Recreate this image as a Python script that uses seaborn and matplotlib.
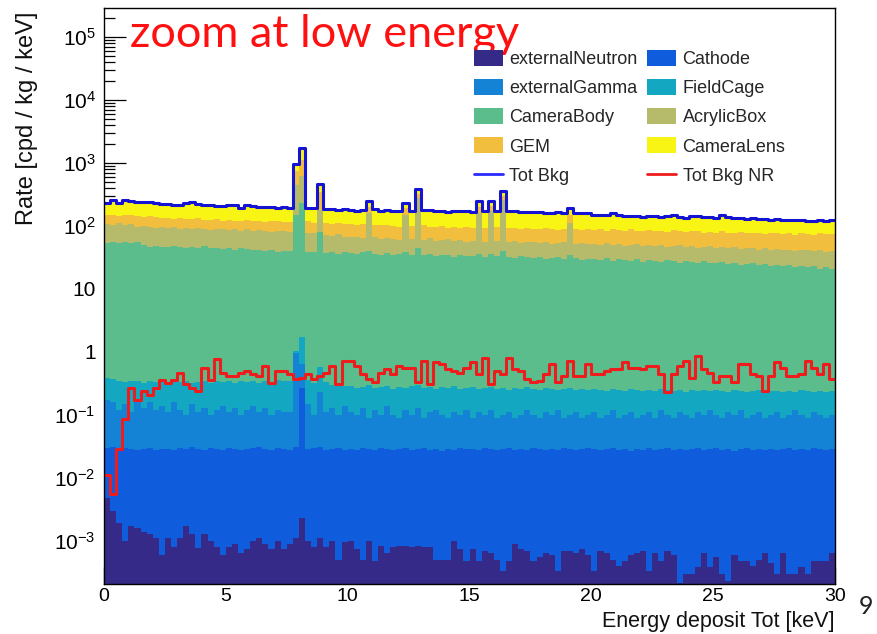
import numpy as np
import pandas as pd
import matplotlib
matplotlib.use("Agg")
import matplotlib.pyplot as plt
import seaborn as sns
from matplotlib.patches import Patch
from matplotlib.lines import Line2D
from matplotlib.ticker import FixedLocator, LogLocator, MultipleLocator, NullFormatter

# ---------------- data (stacked levels, 0.25 keV bins) -------------
bin_width = 0.25
energy_edges = np.arange(0, 30 + bin_width / 2, bin_width)
energy_centers = energy_edges[:-1] + bin_width / 2

# Tot Bkg (= top of the CameraLens layer)
tot_bkg = [
    234, 255, 234, 262, 245, 240, 238, 240, 234, 222,
    222, 214, 216, 228, 238, 226, 214, 212, 205, 206,
    218, 216, 196, 212, 206, 204, 201, 198, 194, 198,
    192, 960, 1740, 196, 194, 465, 186, 184, 180, 186,
    180, 176, 182, 250, 184, 176, 178, 174, 172, 232,
    176, 387, 182, 178, 172, 170, 168, 172, 170, 172,
    168, 250, 170, 250, 176, 360, 176, 174, 168, 166,
    166, 164, 162, 162, 164, 162, 196, 160, 158, 162,
    152, 150, 148, 158, 148, 146, 146, 144, 140, 142,
    146, 140, 146, 148, 138, 136, 144, 146, 140, 138,
    134, 148, 138, 134, 132, 130, 132, 128, 128, 126,
    128, 126, 124, 124, 124, 122, 122, 124, 122, 124,
]
# top of the GEM layer
lvl_gem = [
    150, 152, 146, 150, 148, 144, 140, 146, 138, 134,
    132, 130, 136, 130, 128, 132, 126, 124, 128, 122,
    126, 120, 122, 124, 118, 120, 116, 122, 118, 114,
    116, 760, 1100, 118, 112, 350, 112, 108, 110, 106,
    108, 104, 106, 200, 104, 102, 104, 100, 98, 190,
    100, 320, 102, 98, 96, 100, 94, 96, 92, 96,
    94, 200, 92, 210, 96, 300, 94, 92, 90, 92,
    90, 88, 92, 90, 86, 88, 150, 88, 86, 90,
    86, 88, 84, 90, 86, 84, 88, 82, 84, 86,
    82, 84, 80, 86, 82, 80, 84, 82, 78, 80,
    78, 82, 78, 76, 80, 78, 76, 78, 74, 76,
    78, 74, 76, 72, 76, 74, 72, 76, 74, 75,
]
# top of the AcrylicBox layer
lvl_acrylic = [
    108, 104, 110, 102, 106, 98, 100, 96, 94, 98,
    92, 96, 90, 94, 88, 92, 90, 86, 90, 88,
    86, 90, 84, 88, 82, 86, 84, 80, 84, 82,
    80, 450, 620, 78, 76, 180, 72, 70, 74, 68,
    66, 68, 64, 160, 66, 62, 64, 62, 60, 150,
    62, 280, 60, 64, 58, 60, 62, 58, 60, 56,
    58, 160, 56, 170, 58, 260, 56, 58, 54, 56,
    56, 54, 56, 52, 54, 56, 110, 52, 54, 52,
    52, 50, 54, 50, 52, 48, 50, 52, 48, 50,
    48, 50, 46, 48, 50, 46, 48, 44, 46, 48,
    45, 46, 44, 47, 43, 45, 44, 42, 44, 42,
    43, 41, 42, 40, 42, 41, 40, 42, 39, 40,
]
# top of the CameraBody layer
lvl_camerabody = [
    54, 55, 54, 56, 53, 55, 50, 47, 48, 46,
    47, 48, 46, 44, 47, 45, 48, 44, 45, 43,
    44, 42, 45, 43, 41, 42, 40, 41, 39, 40,
    40, 150, 234, 39, 38, 80, 37, 39, 36, 38,
    37, 36, 38, 40, 36, 35, 37, 34, 36, 38,
    35, 45, 34, 36, 33, 35, 34, 32, 34, 33,
    33, 36, 32, 36, 33, 40, 32, 31, 33, 32,
    31, 32, 30, 31, 32, 30, 34, 31, 29, 30,
    30, 29, 31, 28, 30, 29, 28, 30, 27, 29,
    28, 27, 29, 28, 26, 28, 27, 26, 28, 26,
    26, 27, 25, 26, 24, 25, 26, 24, 25, 23,
    24, 23, 24, 22, 23, 22, 23, 21, 22, 21,
]
# top of the FieldCage layer
lvl_fieldcage = [
    0.38, 0.37, 0.34, 0.33, 0.35, 0.34, 0.32, 0.35, 0.33, 0.34,
    0.32, 0.34, 0.33, 0.35, 0.32, 0.33, 0.35, 0.32, 0.34, 0.33,
    0.34, 0.32, 0.35, 0.33, 0.34, 0.32, 0.35, 0.33, 0.36, 0.34,
    0.35, 1.05, 1.70, 0.36, 0.32, 0.58, 0.33, 0.30, 0.32, 0.29,
    0.29, 0.27, 0.28, 0.30, 0.27, 0.28, 0.29, 0.26, 0.28, 0.27,
    0.29, 0.30, 0.27, 0.28, 0.26, 0.28, 0.27, 0.29, 0.26, 0.27,
    0.28, 0.26, 0.27, 0.28, 0.26, 0.27, 0.25, 0.27, 0.26, 0.28,
    0.26, 0.25, 0.27, 0.26, 0.25, 0.26, 0.27, 0.25, 0.26, 0.25,
    0.26, 0.25, 0.24, 0.26, 0.25, 0.24, 0.26, 0.25, 0.24, 0.25,
    0.24, 0.26, 0.25, 0.24, 0.25, 0.23, 0.25, 0.24, 0.25, 0.24,
    0.25, 0.24, 0.23, 0.25, 0.24, 0.23, 0.24, 0.25, 0.23, 0.24,
    0.24, 0.23, 0.24, 0.23, 0.25, 0.24, 0.23, 0.24, 0.23, 0.24,
]
# top of the externalGamma layer
lvl_gamma = [
    0.17, 0.16, 0.12, 0.15, 0.11, 0.17, 0.13, 0.16, 0.12, 0.14,
    0.11, 0.16, 0.12, 0.10, 0.15, 0.11, 0.13, 0.10, 0.12, 0.14,
    0.11, 0.13, 0.10, 0.12, 0.14, 0.11, 0.13, 0.10, 0.12, 0.11,
    0.11, 0.95, 0.64, 0.15, 0.10, 0.23, 0.11, 0.13, 0.10, 0.14,
    0.11, 0.10, 0.13, 0.09, 0.12, 0.10, 0.14, 0.10, 0.09, 0.12,
    0.10, 0.13, 0.09, 0.11, 0.12, 0.10, 0.09, 0.11, 0.10, 0.12,
    0.09, 0.11, 0.10, 0.12, 0.09, 0.10, 0.11, 0.09, 0.10, 0.12,
    0.10, 0.09, 0.11, 0.10, 0.12, 0.09, 0.10, 0.11, 0.09, 0.10,
    0.11, 0.09, 0.10, 0.12, 0.09, 0.10, 0.11, 0.09, 0.10, 0.11,
    0.09, 0.12, 0.10, 0.09, 0.11, 0.10, 0.09, 0.11, 0.10, 0.12,
    0.10, 0.09, 0.11, 0.10, 0.12, 0.09, 0.10, 0.11, 0.09, 0.10,
    0.11, 0.09, 0.10, 0.12, 0.10, 0.09, 0.11, 0.10, 0.09, 0.10,
]
# top of the Cathode layer
lvl_cathode = [
    0.030, 0.031, 0.029, 0.030, 0.029, 0.028, 0.029, 0.030, 0.028, 0.029,
    0.029, 0.028, 0.030, 0.029, 0.031, 0.029, 0.028, 0.030, 0.029, 0.028,
    0.030, 0.029, 0.028, 0.029, 0.030, 0.031, 0.029, 0.028, 0.030, 0.029,
    0.028, 0.031, 0.270, 0.029, 0.030, 0.031, 0.028, 0.029, 0.030, 0.028,
    0.029, 0.028, 0.030, 0.029, 0.028, 0.030, 0.029, 0.028, 0.029, 0.030,
    0.028, 0.029, 0.030, 0.028, 0.029, 0.027, 0.029, 0.028, 0.030, 0.029,
    0.029, 0.028, 0.030, 0.029, 0.028, 0.029, 0.030, 0.028, 0.029, 0.028,
    0.030, 0.029, 0.028, 0.029, 0.028, 0.030, 0.029, 0.028, 0.029, 0.030,
    0.029, 0.028, 0.029, 0.030, 0.028, 0.029, 0.027, 0.029, 0.028, 0.030,
    0.028, 0.029, 0.030, 0.028, 0.029, 0.028, 0.029, 0.030, 0.028, 0.029,
    0.030, 0.028, 0.029, 0.027, 0.029, 0.030, 0.028, 0.029, 0.028, 0.029,
    0.028, 0.029, 0.030, 0.028, 0.029, 0.028, 0.030, 0.029, 0.028, 0.029,
]
# top of the externalNeutron layer
lvl_neutron = [
    0.0048, 0.0030, 0.0019, 0.0010, 0.0017, 0.0016, 0.0014, 0.0013, 0.0011, 0.0006,
    0.0011, 0.0008, 0.0011, 0.0017, 0.0013, 0.00078, 0.0013, 0.0010, 0.0008, 0.0006,
    0.0008, 0.0009, 0.00065, 0.00075, 0.0010, 0.0011, 0.0009, 0.00075, 0.0010, 0.00075,
    0.0009, 0.0011, 0.0023, 0.0010, 0.0008, 0.0011, 0.0008, 0.0010, 0.0005, 0.00095,
    0.0010, 0.00075, 0.0005, 0.0010, 0.00048, 0.00083, 0.00063, 0.0008, 0.00083, 0.00083,
    0.0008, 0.00083, 0.0008, 0.0008, 0.0005, 0.0005, 0.0005, 0.0010, 0.00075, 0.00048,
    0.00075, 0.00048, 0.0007, 0.00063, 0.0005, 0.00033, 0.00048, 0.0009, 0.00075, 0.0007,
    0.00048, 0.00055, 0.00063, 0.0006, 0.00033, 0.00068, 0.0007, 0.00065, 0.00075, 0.0006,
    0.00033, 0.0007, 0.00063, 0.0005, 0.0004, 0.00048, 0.0006, 0.00065, 0.0007, 0.00033,
    0.00063, 0.00048, 0.0007, 0.0006, 0.00021, 0.0003, 0.0003, 0.00038, 0.00063, 0.00038,
    0.00055, 0.0003, 0.00023, 0.0006, 0.00048, 0.00048, 0.0004, 0.0005, 0.00063, 0.00045,
    0.0003, 0.00063, 0.0003, 0.0003, 0.00038, 0.0003, 0.00048, 0.00048, 0.00048, 0.00063,
]
# Tot Bkg NR (red line)
tot_bkg_nr = [
    0.011, 0.0055, 0.029, 0.086, 0.27, 0.17, 0.24, 0.21, 0.27, 0.36,
    0.32, 0.36, 0.46, 0.31, 0.27, 0.24, 0.56, 0.36, 0.77, 0.47,
    0.42, 0.42, 0.46, 0.50, 0.44, 0.42, 0.60, 0.32, 0.50, 0.50,
    0.44, 0.37, 0.39, 0.44, 0.37, 0.42, 0.46, 0.60, 0.31, 0.72,
    0.72, 0.60, 0.44, 0.37, 0.33, 0.47, 0.53, 0.44, 0.60, 0.56,
    0.56, 0.33, 0.72, 0.31, 0.68, 0.64, 0.53, 0.50, 0.47, 0.56,
    0.68, 0.44, 0.81, 0.31, 0.50, 0.44, 0.81, 0.53, 0.50, 0.37,
    0.33, 0.35, 0.44, 0.64, 0.33, 0.42, 0.72, 0.42, 0.42, 0.64,
    0.44, 0.44, 0.50, 0.53, 0.53, 0.68, 0.56, 0.56, 0.53, 0.60,
    0.60, 0.44, 0.23, 0.44, 0.60, 0.72, 0.39, 0.86, 0.53, 0.47,
    0.33, 0.42, 0.42, 0.33, 0.64, 0.64, 0.44, 0.42, 0.24, 0.42,
    0.68, 0.56, 0.42, 0.42, 0.44, 0.72, 0.56, 0.44, 0.64, 0.37,
]

legend_order = ["externalNeutron", "Cathode", "externalGamma", "FieldCage",
                "CameraBody", "AcrylicBox", "GEM", "CameraLens"]
stack_levels = {
    "externalNeutron": lvl_neutron,
    "Cathode": lvl_cathode,
    "externalGamma": lvl_gamma,
    "FieldCage": lvl_fieldcage,
    "CameraBody": lvl_camerabody,
    "AcrylicBox": lvl_acrylic,
    "GEM": lvl_gem,
    "CameraLens": tot_bkg,
}
colors = {
    "externalNeutron": "#352a87",
    "Cathode": "#0f5cdc",
    "externalGamma": "#1583d5",
    "FieldCage": "#14a7c2",
    "CameraBody": "#5bbd8c",
    "AcrylicBox": "#b5bb6a",
    "GEM": "#f2be3e",
    "CameraLens": "#f8f414",
}
col_tot = "#1414d2"
col_nr = "#ee1c1c"

for k, v in stack_levels.items():
    assert len(v) == len(energy_centers), k
assert len(tot_bkg_nr) == len(energy_centers)

bin_list = [float(b) for b in energy_edges]

# ---------------- style ----------------
sns.set_theme(style="white")
plt.rcParams["font.family"] = ["Liberation Sans", "DejaVu Sans"]
plt.rcParams["mathtext.fontset"] = "custom"
plt.rcParams["mathtext.rm"] = "Liberation Sans"
plt.rcParams["mathtext.it"] = "Liberation Sans:italic"
plt.rcParams["mathtext.bf"] = "Liberation Sans:bold"
plt.rcParams["axes.unicode_minus"] = True

fig = plt.figure(figsize=(8.77, 6.34), dpi=100)
ax = fig.add_axes([104 / 877, 50 / 634, 731 / 877, 576 / 634])
ax.set_yscale("log")

# draw stack from the top level downward so lower components overlay
for name in legend_order[::-1]:
    df = pd.DataFrame({"E": energy_centers, "rate": stack_levels[name]})
    sns.histplot(data=df, x="E", weights="rate", bins=bin_list, element="step",
                 fill=True, color=colors[name], alpha=1, linewidth=0, ax=ax)

df_tot = pd.DataFrame({"E": energy_centers, "rate": tot_bkg})
sns.histplot(data=df_tot, x="E", weights="rate", bins=bin_list, element="step",
             fill=False, color=col_tot, linewidth=2.2, ax=ax)
df_nr = pd.DataFrame({"E": energy_centers, "rate": tot_bkg_nr})
sns.histplot(data=df_nr, x="E", weights="rate", bins=bin_list, element="step",
             fill=False, color=col_nr, linewidth=2.2, ax=ax)

ax.set_xlim(0, 30)
ax.set_ylim(2.06e-4, 2.9e5)

# ticks
ytick_vals = [1e-3, 1e-2, 1e-1, 1, 10, 1e2, 1e3, 1e4, 1e5]
ytick_labels = [r"$10^{-3}$", r"$10^{-2}$", r"$10^{-1}$", "1", "10",
                r"$10^{2}$", r"$10^{3}$", r"$10^{4}$", r"$10^{5}$"]
ax.yaxis.set_major_locator(FixedLocator(ytick_vals))
ax.set_yticklabels(ytick_labels)
ax.yaxis.set_minor_locator(LogLocator(base=10, subs=np.arange(2, 10), numticks=100))
ax.yaxis.set_minor_formatter(NullFormatter())
ax.xaxis.set_major_locator(MultipleLocator(5))
ax.xaxis.set_minor_locator(MultipleLocator(1))

ax.tick_params(which="both", direction="in", left=True, bottom=True, top=False,
               right=False, colors="black", width=0.9)
ax.tick_params(axis="y", which="major", length=16, pad=6, labelsize=15)
ax.tick_params(axis="y", which="minor", length=8)
ax.tick_params(axis="x", which="major", length=12, pad=3.2, labelsize=14)
ax.tick_params(axis="x", which="minor", length=6)

for s in ax.spines.values():
    s.set_color("black")
    s.set_linewidth(1.0)
ax.grid(False)

ax.set_xlabel("Energy deposit Tot [keV]", fontsize=15.5, loc="right", color="#111111")
ax.xaxis.set_label_coords(1.0, -0.0465)
ax.set_ylabel("Rate [cpd / kg / keV]", fontsize=17, loc="top", color="#111111")
ax.yaxis.set_label_coords(-0.090, 0.993)

# legend (ROOT-style row-wise order in two columns)
patch = {n: Patch(facecolor=colors[n], edgecolor="none", label=n) for n in legend_order}
h_tot = Line2D([0], [0], color="#2a2aff", lw=2, label="Tot Bkg")
h_nr = Line2D([0], [0], color=col_nr, lw=2, label="Tot Bkg NR")
col1 = [patch["externalNeutron"], patch["externalGamma"], patch["CameraBody"], patch["GEM"], h_tot]
col2 = [patch["Cathode"], patch["FieldCage"], patch["AcrylicBox"], patch["CameraLens"], h_nr]
handles = col1 + col2
fig.legend(handles=handles, labels=[h.get_label() for h in handles], ncol=2,
           loc="upper left", bbox_to_anchor=(474 / 877, 1 - 50 / 634),
           frameon=False, fontsize=13, borderpad=0, borderaxespad=0,
           handlelength=1.6, handleheight=1.0, handletextpad=0.35,
           labelspacing=0.60, columnspacing=0.55)

# annotations
fig.text(130 / 877, 1 - 47 / 634, "zoom at low energy", color="#ff1010",
         fontsize=32.5, family=["Lato", "DejaVu Sans"], ha="left", va="baseline")
fig.text(866 / 877, 1 - 607 / 634, "9", color="#222222", fontsize=18,
         family=["Lato", "DejaVu Sans"], ha="center", va="center")

fig.savefig("out.png", dpi=100)
